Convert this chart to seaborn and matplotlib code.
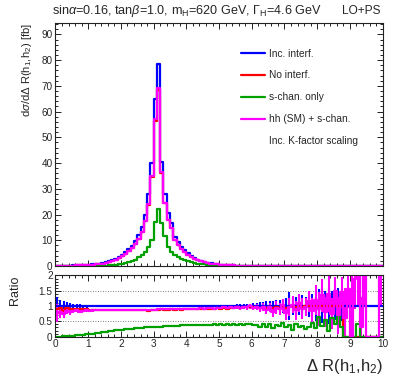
import numpy as np
import pandas as pd
import seaborn as sns
import matplotlib.pyplot as plt
from matplotlib.lines import Line2D
from matplotlib.ticker import MultipleLocator

# 100 bins of 0.1 in Delta R, values given per bin centre
centers = np.round(np.arange(0.05, 10.0, 0.1), 2)

# main panel, d sigma / d Delta R [fb]
inc_interf = [0.1, 0.1, 0.12, 0.15, 0.18, 0.22, 0.26, 0.3, 0.36, 0.42,
              0.5, 0.6, 0.75, 0.9, 1.1, 1.4, 1.8, 2.3, 2.9, 3.6,
              4.4, 5.3, 6.5, 7.8, 9.6, 12.0, 15.0, 20.0, 28.0, 40.0,
              65.0, 78.5, 40.5, 28.0, 20.4, 16.6, 11.4, 9.4, 7.5, 6.2,
              4.9, 3.8, 3.1, 2.5, 2.0, 1.6, 1.3, 1.05, 0.85, 0.7,
              0.56, 0.45, 0.36, 0.29, 0.23, 0.18, 0.14, 0.11, 0.09, 0.07,
              0.055, 0.045, 0.037, 0.03, 0.025, 0.02, 0.017, 0.014, 0.011, 0.009,
              0.008, 0.007, 0.006, 0.005, 0.004, 0.0035, 0.003, 0.0025, 0.002, 0.0018,
              0.0015, 0.0012, 0.001, 0.0008, 0.0006, 0.0005, 0.0004, 0.0003, 0.0002, 0.0002,
              0.0001, 0.0001, 0.0001, 0.0, 0.0, 0.0, 0.0, 0.0, 0.0, 0.0001]
no_interf = [0.08, 0.08, 0.1, 0.13, 0.15, 0.18, 0.22, 0.25, 0.31, 0.36,
             0.43, 0.52, 0.65, 0.78, 0.95, 1.2, 1.55, 2.0, 2.5, 3.1,
             3.8, 4.6, 5.7, 6.8, 8.4, 10.5, 13.2, 17.4, 23.8, 34.6,
             56.2, 68.4, 36.0, 24.3, 17.9, 14.7, 10.0, 8.3, 6.6, 5.5,
             4.3, 3.4, 2.7, 2.2, 1.8, 1.45, 1.15, 0.95, 0.77, 0.63,
             0.5, 0.41, 0.33, 0.26, 0.21, 0.17, 0.13, 0.1, 0.08, 0.065,
             0.05, 0.04, 0.033, 0.027, 0.022, 0.018, 0.015, 0.012, 0.01, 0.008,
             0.007, 0.006, 0.005, 0.0045, 0.004, 0.0035, 0.003, 0.0025, 0.002, 0.0018,
             0.0015, 0.0012, 0.001, 0.0008, 0.0006, 0.0005, 0.0004, 0.0003, 0.0002, 0.0002,
             0.0001, 0.0001, 0.0001, 0.0, 0.0, 0.0, 0.0, 0.0, 0.0, 0.0001]
s_chan = [0.0, 0.0, 0.002, 0.004, 0.007, 0.01, 0.015, 0.02, 0.028, 0.036,
          0.048, 0.06, 0.08, 0.1, 0.13, 0.18, 0.24, 0.32, 0.42, 0.6,
          0.85, 1.1, 1.45, 1.9, 2.5, 3.4, 4.3, 5.5, 7.5, 10.0,
          17.2, 22.3, 16.8, 11.5, 7.2, 5.6, 4.1, 3.4, 2.8, 2.3,
          1.9, 1.5, 1.2, 0.95, 0.78, 0.62, 0.5, 0.4, 0.33, 0.27,
          0.22, 0.18, 0.14, 0.11, 0.09, 0.07, 0.055, 0.043, 0.035, 0.028,
          0.022, 0.018, 0.014, 0.011, 0.009, 0.007, 0.006, 0.005, 0.004, 0.003,
          0.0025, 0.002, 0.0015, 0.0012, 0.001, 0.0008, 0.0006, 0.0005, 0.0004, 0.0003,
          0.0002, 0.0002, 0.0001, 0.0001, 0.0001, 0.0, 0.0, 0.0, 0.0, 0.0,
          0.0, 0.0, 0.0, 0.0, 0.0, 0.0, 0.0, 0.0, 0.0, 0.0]
hh_s_chan = [0.08, 0.08, 0.1, 0.13, 0.15, 0.18, 0.22, 0.25, 0.31, 0.36,
             0.43, 0.52, 0.65, 0.78, 0.95, 1.2, 1.55, 2.0, 2.5, 3.1,
             3.8, 4.6, 5.7, 6.8, 8.4, 10.5, 13.2, 17.5, 24.0, 35.0,
             57.0, 69.3, 36.5, 24.5, 18.0, 14.8, 10.0, 8.3, 6.6, 5.5,
             4.3, 3.4, 2.7, 2.2, 1.8, 1.45, 1.15, 0.95, 0.77, 0.63,
             0.5, 0.41, 0.33, 0.26, 0.21, 0.17, 0.13, 0.1, 0.08, 0.065,
             0.05, 0.04, 0.033, 0.027, 0.022, 0.018, 0.015, 0.012, 0.01, 0.008,
             0.007, 0.006, 0.005, 0.0045, 0.004, 0.0035, 0.003, 0.0025, 0.002, 0.0018,
             0.0015, 0.0012, 0.001, 0.0008, 0.0006, 0.0005, 0.0004, 0.0003, 0.0002, 0.0002,
             0.0001, 0.0001, 0.0001, 0.0, 0.0, 0.0, 0.0, 0.0, 0.0, 0.0001]

# ratio panel (to "Inc. interf.")
ratio_blue = [1.0] * 100
err_blue = [0.3, 0.2, 0.15, 0.12, 0.1, 0.08, 0.07, 0.06, 0.05, 0.05,
            0.04, 0.04, 0.03, 0.03, 0.03, 0.02, 0.02, 0.02, 0.02, 0.02,
            0.02, 0.02, 0.02, 0.02, 0.02, 0.02, 0.02, 0.02, 0.02, 0.02,
            0.02, 0.02, 0.02, 0.02, 0.02, 0.02, 0.02, 0.02, 0.02, 0.02,
            0.02, 0.02, 0.02, 0.02, 0.02, 0.02, 0.03, 0.03, 0.03, 0.03,
            0.03, 0.04, 0.04, 0.05, 0.05, 0.06, 0.06, 0.07, 0.08, 0.08,
            0.09, 0.1, 0.12, 0.13, 0.15, 0.15, 0.18, 0.2, 0.2, 0.22,
            0.25, 0.45, 0.28, 0.3, 0.3, 0.35, 0.3, 0.35, 0.4, 0.5,
            0.55, 0.55, 0.5, 0.6, 0.5, 0.45, 0.6, 0.5, 0.0, 0.0,
            0.0, 0.0, 0.0, 0.0, 0.0, 0.0, 0.0, 0.0, 0.0, 0.0]
ratio_red = [0.9, 0.95, 0.85, 0.93, 0.9, 0.92, 0.92, 0.9, 0.91, 0.9,
             0.88, 0.88, 0.88, 0.88, 0.87, 0.87, 0.87, 0.87, 0.87, 0.87,
             0.87, 0.87, 0.87, 0.87, 0.87, 0.87, 0.87, 0.87, 0.85, 0.87,
             0.87, 0.87, 0.89, 0.87, 0.88, 0.89, 0.88, 0.89, 0.88, 0.89,
             0.89, 0.9, 0.89, 0.9, 0.91, 0.9, 0.91, 0.92, 0.91, 0.93,
             0.92, 0.94, 0.92, 0.95, 0.94, 0.96, 0.94, 0.97, 0.96, 0.98,
             0.96, 0.98, 0.95, 0.97, 0.94, 0.97, 0.93, 0.98, 0.95, 1.0,
             0.95, 0.98, 1.0, 0.97, 1.0, 0.98, 1.0, 1.0, 0.99, 1.0,
             1.0, 1.0, 1.0, 1.0, 1.0, 1.0, 1.0, 1.0, 0.0, 0.0,
             0.0, 0.0, 0.0, 0.0, 0.0, 0.0, 0.0, 0.0, 0.0, 0.0]
ratio_pink = [0.78, 0.82, 0.75, 0.85, 0.8, 0.84, 0.86, 0.82, 0.85, 0.86,
              0.85, 0.86, 0.86, 0.87, 0.86, 0.87, 0.86, 0.87, 0.87, 0.87,
              0.88, 0.87, 0.88, 0.88, 0.88, 0.87, 0.88, 0.88, 0.88, 0.88,
              0.88, 0.89, 0.89, 0.9, 0.89, 0.9, 0.9, 0.91, 0.9, 0.91,
              0.91, 0.92, 0.91, 0.92, 0.93, 0.91, 0.93, 0.94, 0.92, 0.95,
              0.94, 0.96, 0.93, 0.96, 0.95, 0.97, 0.94, 0.98, 0.96, 0.99,
              0.95, 0.98, 0.93, 0.97, 0.88, 0.96, 0.82, 0.95, 0.9, 1.02,
              0.78, 0.96, 1.05, 0.86, 1.1, 0.92, 0.98, 1.15, 0.85, 1.2,
              0.9, 1.35, 0.8, 1.4, 0.75, 1.5, 0.7, 1.45, 0.6, 1.55,
              0.0, 1.9, 2.0, 0.3, 2.0, 0.0, 0.0, 0.0, 0.0, 2.0]
err_pink = [0.3, 0.2, 0.15, 0.12, 0.1, 0.08, 0.07, 0.06, 0.05, 0.05,
            0.04, 0.04, 0.03, 0.03, 0.03, 0.02, 0.02, 0.02, 0.02, 0.02,
            0.02, 0.02, 0.02, 0.02, 0.02, 0.02, 0.02, 0.02, 0.02, 0.02,
            0.02, 0.02, 0.02, 0.02, 0.02, 0.02, 0.02, 0.02, 0.02, 0.02,
            0.02, 0.02, 0.02, 0.02, 0.02, 0.02, 0.03, 0.03, 0.03, 0.03,
            0.03, 0.04, 0.04, 0.05, 0.05, 0.06, 0.06, 0.07, 0.08, 0.08,
            0.09, 0.1, 0.12, 0.13, 0.15, 0.15, 0.18, 0.2, 0.2, 0.22,
            0.25, 0.3, 0.28, 0.3, 0.3, 0.35, 0.3, 0.35, 0.4, 0.5,
            0.55, 0.55, 0.5, 0.6, 0.5, 0.45, 0.6, 0.5, 1.0, 0.6,
            2.0, 1.0, 1.0, 1.0, 1.0, 0.0, 0.0, 0.0, 0.0, 1.0]
ratio_green = [0.0, 0.005, 0.01, 0.015, 0.02, 0.03, 0.04, 0.05, 0.06, 0.08,
               0.09, 0.1, 0.12, 0.13, 0.15, 0.16, 0.18, 0.19, 0.21, 0.22,
               0.23, 0.24, 0.25, 0.26, 0.27, 0.28, 0.29, 0.3, 0.31, 0.32,
               0.32, 0.33, 0.33, 0.34, 0.35, 0.35, 0.36, 0.36, 0.37, 0.37,
               0.38, 0.38, 0.38, 0.39, 0.38, 0.39, 0.39, 0.38, 0.4, 0.39,
               0.4, 0.39, 0.41, 0.38, 0.42, 0.39, 0.41, 0.37, 0.43, 0.4,
               0.37, 0.39, 0.33, 0.41, 0.3, 0.4, 0.27, 0.38, 0.36, 0.44,
               0.3, 0.38, 0.22, 0.42, 0.3, 0.35, 0.25, 0.32, 0.45, 0.28,
               0.65, 0.35, 0.55, 0.2, 0.6, 0.4, 0.7, 0.3, 0.0, 0.0,
               0.0, 0.0, 0.4, 0.0, 0.0, 0.0, 0.0, 0.0, 0.0, 0.0]

c_blue, c_red, c_green, c_pink = "#0000ff", "#ff0000", "#00a000", "#ff00ff"

sns.set_style("ticks")
plt.rcParams['font.family'] = ['Liberation Sans', 'DejaVu Sans']
plt.rcParams['mathtext.fontset'] = 'custom'
plt.rcParams['mathtext.rm'] = 'Liberation Sans'
plt.rcParams['mathtext.it'] = 'Liberation Sans:italic'

fig = plt.figure(figsize=(3.99, 3.83), dpi=100)
ax = fig.add_axes([0.139, 0.3055, 0.82, 0.635])
axr = fig.add_axes([0.139, 0.121, 0.82, 0.1597])
lw = 1.6


def step_hist(vals, col, a):
    df = pd.DataFrame({"dr": centers, "w": vals})
    sns.histplot(data=df, x="dr", weights="w", binwidth=0.1, binrange=(0, 10),
                 element="step", fill=False, color=col, linewidth=lw, ax=a)


for vals, col in [(inc_interf, c_blue), (no_interf, c_red), (s_chan, c_green), (hh_s_chan, c_pink)]:
    step_hist(vals, col, ax)

ax.set_xlim(0, 10)
ax.set_ylim(0, 94.5)
ax.set_ylabel(r"d$\sigma$/d$\Delta$ R(h$_1$,h$_2$) [fb]", fontsize=8.1, loc="top")
ax.yaxis.set_label_coords(-0.065, 1.0)
ax.set_xlabel("")
ax.tick_params(labelbottom=False)

handles = [Line2D([], [], color=c, lw=lw) for c in (c_blue, c_red, c_green, c_pink)]
handles.append(Line2D([], [], color="none"))
labels = ["Inc. interf.", "No interf.", "s-chan. only", "hh (SM) + s-chan.", "Inc. K-factor scaling"]
ax.legend(handles, labels, loc="upper left", bbox_to_anchor=(0.553, 0.915), frameon=False,
          fontsize=7.3, handlelength=2.3, handletextpad=0.4, labelspacing=1.17, borderpad=0)

# ratio panel
axr.errorbar(centers, ratio_blue, yerr=err_blue, fmt="none", ecolor=c_blue, elinewidth=1.5)
axr.errorbar(centers, ratio_pink, yerr=err_pink, fmt="none", ecolor=c_pink, elinewidth=1.5)
for vals, col in [(ratio_blue, c_blue), (ratio_red, c_red), (ratio_green, c_green), (ratio_pink, c_pink)]:
    step_hist(vals, col, axr)
axr.set_xlim(0, 10)
axr.set_ylim(0, 2)
axr.set_yticks([0, 0.5, 1, 1.5, 2])
axr.set_yticklabels(["0", "0.5", "1", "1.5", "2"])
for yv in (0.5, 1.0, 1.5):
    axr.axhline(yv, color="#555555", lw=0.6, ls=(0, (1, 2)), zorder=0)
axr.set_ylabel("Ratio", fontsize=9, loc="top")
axr.yaxis.set_label_coords(-0.104, 1.0)
axr.set_xlabel(r"$\Delta$ R(h$_1$,h$_2$)", fontsize=12, loc="right")
axr.xaxis.set_label_coords(1.0, -0.33)

for a in (ax, axr):
    a.xaxis.set_major_locator(MultipleLocator(1))
    a.xaxis.set_minor_locator(MultipleLocator(0.2))
    a.tick_params(which="both", direction="in", top=True, right=True, labelsize=7.2, pad=2,
                  width=0.7, color="#222222")
    a.tick_params(which="major", length=4)
    a.tick_params(which="minor", length=2.2)
    for sp in a.spines.values():
        sp.set_linewidth(0.8)
        sp.set_color("#222222")
ax.yaxis.set_major_locator(MultipleLocator(10))
ax.yaxis.set_minor_locator(MultipleLocator(2))
axr.yaxis.set_minor_locator(MultipleLocator(0.1))

fig.text(0.468, 0.972, r"sin$\alpha$=0.16, tan$\beta$=1.0, m$_\mathrm{H}$=620 GeV, $\Gamma_\mathrm{H}$=4.6 GeV",
         ha="center", va="center", fontsize=9.1)
fig.text(0.953, 0.972, "LO+PS", ha="right", va="center", fontsize=8.6)

fig.savefig("out.png", dpi=100)
